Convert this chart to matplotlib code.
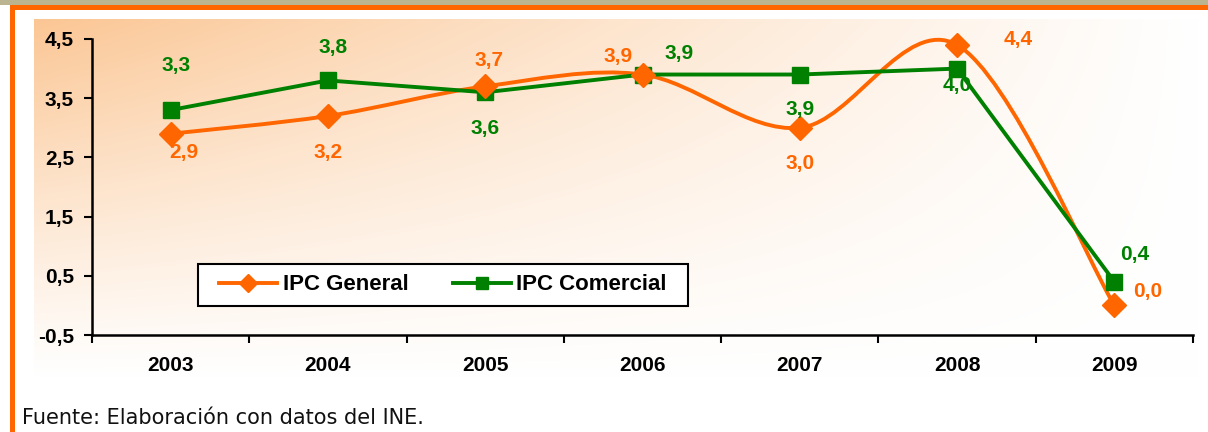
import numpy as np
import matplotlib.pyplot as plt
from matplotlib.patches import Rectangle, PathPatch
from matplotlib.path import Path
from matplotlib.lines import Line2D

plt.rcParams['font.family'] = ['Liberation Sans', 'DejaVu Sans']

years = ['2003', '2004', '2005', '2006', '2007', '2008', '2009']
ipc_general = [2.9, 3.2, 3.7, 3.9, 3.0, 4.4, 0.0]
ipc_comercial = [3.3, 3.8, 3.6, 3.9, 3.9, 4.0, 0.4]
y_ticks = [-0.5, 0.5, 1.5, 2.5, 3.5, 4.5]

ORANGE = '#ff6600'
GREEN = '#008000'
W, H = 1208, 432


def fig_box(x0, y0, x1, y1):
    # pixel box (top-left origin) -> figure fraction [left, bottom, width, height]
    return [x0 / W, 1 - y1 / H, (x1 - x0) / W, (y1 - y0) / H]


fig = plt.figure(figsize=(W / 100, H / 100), dpi=100)
fig.patch.set_facecolor('white')

# frame: grey strip, orange rules
for (x0, y0, x1, y1, c) in [(0, 0, W, 5, '#bab590'), (10, 5, W, 10, ORANGE), (10, 5, 15, H, ORANGE)]:
    b = fig_box(x0, y0, x1, y1)
    fig.add_artist(Rectangle((b[0], b[1]), b[2], b[3], transform=fig.transFigure,
                             facecolor=c, edgecolor='none', zorder=0))

# gradient background (orange in the top-left corner fading to white)
bg = fig.add_axes(fig_box(34, 19, 1200, 378), zorder=0)
bg.axis('off')
u = np.linspace(0, 1, 400)[None, :]
v = np.linspace(0, 1, 200)[:, None]
t = np.clip(1 - u, 0, 1) ** 1.1 * np.clip(1 - v, 0, 1) ** 1.1
peak = np.array([251, 198, 148]) / 255.0
img = 1 - t[..., None] * (1 - peak)
bg.imshow(img, aspect='auto', extent=(0, 1, 0, 1), interpolation='bilinear')
bg.set_xlim(0, 1)
bg.set_ylim(0, 1)

ax = fig.add_axes(fig_box(92, 39, 1193, 335), zorder=1)
ax.set_facecolor('none')
x = np.arange(len(years))

# smoothed orange line (Excel-like bezier through the data points)
pts = np.column_stack([x, ipc_general]).astype(float)
verts = [pts[0]]
codes = [Path.MOVETO]
n = len(pts)
for i in range(n - 1):
    p0 = pts[i - 1] if i > 0 else pts[i]
    p1, p2 = pts[i], pts[i + 1]
    p3 = pts[i + 2] if i + 2 < n else pts[i + 1]
    c1 = p1 + (p2 - p0) / 6.0
    c2 = p2 - (p3 - p1) / 6.0
    verts += [c1, c2, p2]
    codes += [Path.CURVE4] * 3
ax.add_patch(PathPatch(Path(verts, codes), facecolor='none', edgecolor=ORANGE,
                       lw=2.8, clip_on=False, zorder=3))
ax.plot(x, ipc_general, linestyle='none', marker='D', ms=12, color=ORANGE,
        clip_on=False, zorder=5)

ax.plot(x, ipc_comercial, color=GREEN, lw=2.8, marker='s', ms=12, clip_on=False, zorder=4)

# data labels (offsets in pixels)
gen_off = [(13, -19), (0, -37), (4, 26), (-24, 18), (0, -36), (61, 5), (33, 14)]
com_off = [(5, 45), (5, 33), (0, -36), (37, 21), (0, -35), (0, -17), (20, 27)]
for i, val in enumerate(ipc_general):
    ax.annotate(f'{val:.1f}'.replace('.', ','), (x[i], val), xytext=gen_off[i],
                textcoords='offset pixels', ha='center', va='center', color=ORANGE,
                fontsize=15, fontweight='bold', annotation_clip=False, zorder=6)
for i, val in enumerate(ipc_comercial):
    ax.annotate(f'{val:.1f}'.replace('.', ','), (x[i], val), xytext=com_off[i],
                textcoords='offset pixels', ha='center', va='center', color=GREEN,
                fontsize=15, fontweight='bold', annotation_clip=False, zorder=6)

ax.set_xlim(-0.5, len(years) - 0.5)
ax.set_ylim(-0.5, 4.5)
ax.set_yticks(y_ticks)
ax.set_yticklabels([f'{v:.1f}'.replace('.', ',') for v in y_ticks],
                   fontsize=15, fontweight='bold')
ax.set_xticks(np.arange(-0.5, len(years), 1.0))
ax.set_xticklabels([])
ax.set_xticks(x, minor=True)
ax.set_xticklabels(years, minor=True, fontsize=15, fontweight='bold')
ax.tick_params(axis='x', which='major', length=6, width=1.5, direction='out')
ax.tick_params(axis='x', which='minor', length=0, pad=15)
ax.tick_params(axis='y', length=6, width=1.5, direction='out', pad=7)
for s in ['top', 'right']:
    ax.spines[s].set_visible(False)
for s in ['left', 'bottom']:
    ax.spines[s].set_linewidth(1.8)

# legend: own frame box (between background and plot axes), entries centred in it
lb = fig_box(198, 264, 688, 306)
fig.add_artist(Rectangle((lb[0], lb[1]), lb[2], lb[3], transform=fig.transFigure,
                         facecolor='white', edgecolor='black', lw=1.5, zorder=0.5))
handles = [Line2D([], [], color=ORANGE, lw=2.8, marker='D', ms=9),
           Line2D([], [], color=GREEN, lw=2.8, marker='s', ms=9)]
leg = ax.legend(handles, ['IPC General', 'IPC Comercial'], ncol=2, loc='center',
                bbox_to_anchor=(lb[0] + lb[2] / 2, lb[1] + lb[3] / 2),
                bbox_transform=fig.transFigure, frameon=False,
                prop={'weight': 'bold', 'size': 16},
                handlelength=2.6, columnspacing=2.0, handletextpad=0.25,
                borderpad=0, borderaxespad=0)

fig.text(22 / W, 1 - 418 / H, 'Fuente: Elaboración con datos del INE.',
         fontsize=15, va='center', ha='left', color='#111111', family='DejaVu Sans')

fig.savefig('out.png', dpi=100)
